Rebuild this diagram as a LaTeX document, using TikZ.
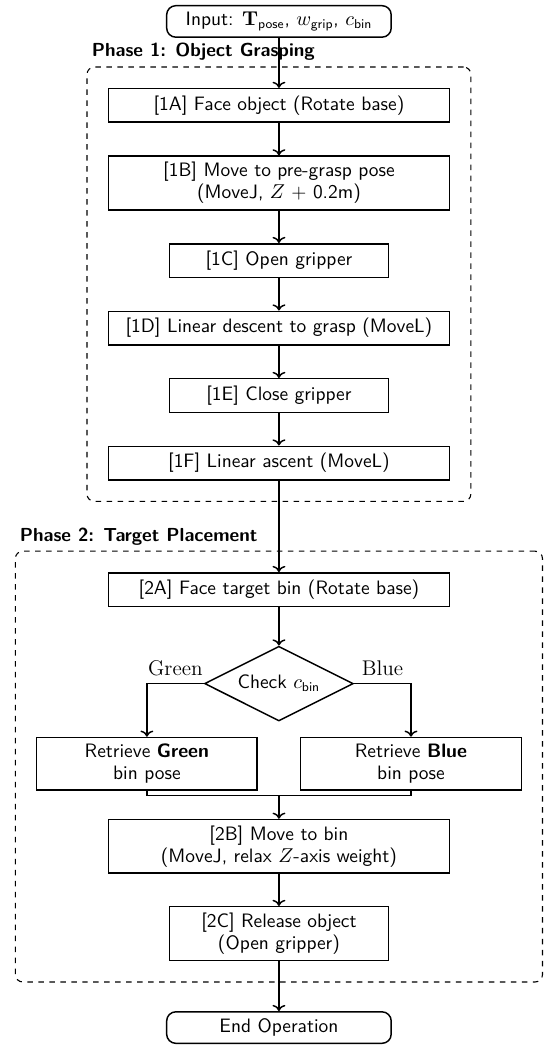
\documentclass[tikz,border=0pt]{standalone}
\usepackage{tikz}
\usetikzlibrary{arrows.meta, positioning, fit, shapes.geometric, calc}
\newcommand{\boxfont}{\fontsize{10.6}{12}\selectfont\sffamily}
\tikzset{
  stepbox/.style={rectangle, draw, thick, align=center, inner ysep=2.5pt,
                  minimum height=18.3pt, font=\boxfont},
  wide/.style={stepbox, minimum width=186pt},
  narrow/.style={stepbox, minimum width=119.4pt},
  twoline/.style={minimum height=29.3pt},
  retrieve/.style={stepbox, minimum width=120.4pt, minimum height=28.8pt},
  term/.style={rectangle, rounded corners=5pt, draw, thick, align=center,
               minimum width=122.6pt, minimum height=17.2pt, font=\boxfont},
  decision/.style={diamond, draw, thick, aspect=2, inner sep=0pt,
                   minimum width=81.2pt, minimum height=40.8pt, font=\boxfont},
  arrow/.style={->, thick},
  phase/.style={rectangle, draw, semithick, dashed, rounded corners=4pt, inner sep=11.4pt},
  phaselabel/.style={font=\fontsize{10.3}{12}\selectfont\sffamily\bfseries,
                     inner sep=0pt, anchor=base west},
  branch/.style={font=\fontsize{11.6}{13}\selectfont\rmfamily, above, yshift=0.5pt},
}

\begin{document}
\begin{tikzpicture}[node distance=17.75pt]
  \useasboundingbox (-152.3pt,11.7pt) rectangle (144.2pt,-561.6pt);

  % phase 1
  \node[term] (in) {Input: $\mathbf{T}_{\mathsf{pose}}$, $w_{\mathsf{grip}}$, $c_{\mathsf{bin}}$};
  \node[wide, below=27.3pt of in] (s1a) {[1A] Face object (Rotate base)};
  \node[wide, twoline, below=of s1a] (s1b) {[1B] Move to pre-grasp pose\\(MoveJ, $Z$ + 0.2m)};
  \node[narrow, below=of s1b] (s1c) {[1C] Open gripper};
  \node[wide, below=of s1c] (s1d) {[1D] Linear descent to grasp (MoveL)};
  \node[narrow, below=of s1d] (s1e) {[1E] Close gripper};
  \node[wide, below=of s1e] (s1f) {[1F] Linear ascent (MoveL)};

  % phase 2
  \node[wide, below=50pt of s1f] (s2a) {[2A] Face target bin (Rotate base)};
  \node[decision, below=21pt of s2a] (dec) {Check $c_{\mathsf{bin}}$};
  \node[retrieve, below=8.2pt of dec, xshift=-72.1pt] (green) {Retrieve \textbf{Green}\\bin pose};
  \node[retrieve, below=8.2pt of dec, xshift=72.1pt] (blue) {Retrieve \textbf{Blue}\\bin pose};
  \node[wide, twoline, below=53pt of dec] (s2b) {[2B] Move to bin\\(MoveJ, relax $Z$-axis weight)};
  \node[narrow, twoline, below=17.5pt of s2b] (s2c) {[2C] Release object\\(Open gripper)};
  \node[term, below=27.3pt of s2c] (out) {End Operation};
  \coordinate[above=12.6pt of s2b] (mrg);

  % frames
  \node[phase, fit=(s1a)(s1f)] (ph1) {};
  \node[phaselabel] at ([xshift=2.7pt, yshift=5.5pt]ph1.north west) {Phase 1: Object Grasping};
  \node[phase, fit=(s2a)(green)(blue)(s2c), inner xsep=11.2pt] (ph2) {};
  \node[phaselabel] at ([xshift=2.5pt, yshift=4.8pt]ph2.north west) {Phase 2: Target Placement};

  % connectors
  \draw[arrow] (in) -- (s1a);
  \draw[arrow] (s1a) -- (s1b);
  \draw[arrow] (s1b) -- (s1c);
  \draw[arrow] (s1c) -- (s1d);
  \draw[arrow] (s1d) -- (s1e);
  \draw[arrow] (s1e) -- (s1f);
  \draw[arrow] (s1f) -- (s2a);
  \draw[arrow] (s2a) -- (dec);
  \draw[arrow] (dec.west) -| (green) node[branch, pos=0.25] {Green};
  \draw[arrow] (dec.east) -| (blue) node[branch, pos=0.25] {Blue};
  \draw[thick] (green) |- (mrg) -| (blue);
  \draw[arrow] (mrg) -- (s2b);
  \draw[arrow] (s2b) -- (s2c);
  \draw[arrow] (s2c) -- (out);
\end{tikzpicture}
\end{document}
